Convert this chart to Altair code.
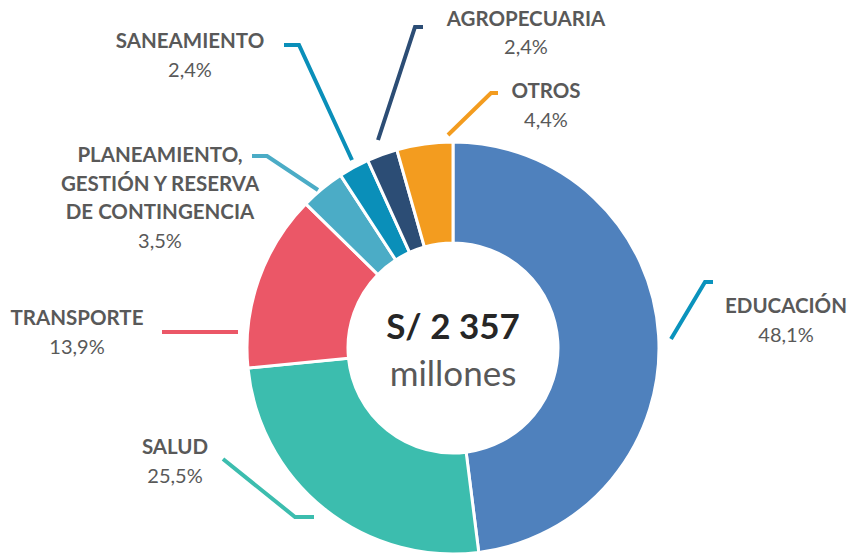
import altair as alt
import pandas as pd

# ---------------- data ----------------
categories = [
    "EDUCACIÓN",
    "SALUD",
    "TRANSPORTE",
    "PLANEAMIENTO, GESTIÓN Y RESERVA DE CONTINGENCIA",
    "SANEAMIENTO",
    "AGROPECUARIA",
    "OTROS",
]
shares = [48.1, 25.5, 13.9, 3.5, 2.4, 2.4, 4.4]
total_millions = 2357
center_unit = "millones"

# ---------------- styling / layout ----------------
slice_colors = ["#4F81BD", "#3CBDAE", "#EB5767", "#4BACC6", "#0A8FB9", "#2C4D75", "#F39C1F"]
leader_colors = ["#0A93BD", "#3CBDAE", "#EB5767", "#4BACC6", "#0A8FB9", "#2C4D75", "#F39C1F"]
TEXT_GREY = "#595959"
FONT = "Lato"
W, H = 845, 546
CX, CY = 453, 348          # donut centre (page px)
R_IN, R_OUT = 105, 206

name_lines = {
    "EDUCACIÓN": ["EDUCACIÓN"],
    "SALUD": ["SALUD"],
    "TRANSPORTE": ["TRANSPORTE"],
    "PLANEAMIENTO, GESTIÓN Y RESERVA DE CONTINGENCIA": ["PLANEAMIENTO,", "GESTIÓN Y RESERVA", "DE CONTINGENCIA"],
    "SANEAMIENTO": ["SANEAMIENTO"],
    "AGROPECUARIA": ["AGROPECUARIA"],
    "OTROS": ["OTROS"],
}
# label anchor (centre x, y of first line), line step
label_anchor = {
    "EDUCACIÓN": (786, 307),
    "SALUD": (175, 448),
    "TRANSPORTE": (77, 319),
    "PLANEAMIENTO, GESTIÓN Y RESERVA DE CONTINGENCIA": (160, 156),
    "SANEAMIENTO": (190, 42),
    "AGROPECUARIA": (526, 19.5),
    "OTROS": (546, 92),
}
LINE_STEP = 28.7
leader_pts = {
    "EDUCACIÓN": [(671, 339), (705, 282), (713, 282)],
    "SALUD": [(223, 459), (295, 517), (314, 517)],
    "TRANSPORTE": [(162, 332), (238, 332)],
    "PLANEAMIENTO, GESTIÓN Y RESERVA DE CONTINGENCIA": [(252, 156), (267, 156), (318, 190)],
    "SANEAMIENTO": [(284, 45), (299, 45), (352, 160)],
    "AGROPECUARIA": [(378, 140), (415, 27), (423, 27)],
    "OTROS": [(448, 135), (491, 93), (498, 93)],
}

# ---------------- tables ----------------
arc_df = pd.DataFrame({"category": categories, "share": shares, "idx": list(range(len(categories)))})

def pct(v):
    return f"{v:.1f}".replace(".", ",") + "%"

name_rows, pct_rows, line_rows = [], [], []
for i, (cat, v) in enumerate(zip(categories, shares)):
    x0, y0 = label_anchor[cat]
    lines = name_lines[cat]
    for j, t in enumerate(lines):
        name_rows.append({"x": x0, "y": y0 + j * LINE_STEP, "t": t})
    pct_rows.append({"x": x0, "y": y0 + len(lines) * LINE_STEP, "t": pct(v)})
    for k, (px, py) in enumerate(leader_pts[cat]):
        line_rows.append({"cat": cat, "k": k, "x": px, "y": py, "lc": leader_colors[i]})

name_df = pd.DataFrame(name_rows)
pct_df = pd.DataFrame(pct_rows)
line_df = pd.DataFrame(line_rows)
center_df = pd.DataFrame({
    "x": [CX, CX],
    "y": [CY - 20, CY + 27],
    "t": ["S/ " + f"{total_millions:,}".replace(",", " "), center_unit],
})

xs = alt.Scale(domain=[8, 8 + W], nice=False, zero=False)
ys = alt.Scale(domain=[8, 8 + H], nice=False, zero=False, reverse=True)

donut = alt.Chart(arc_df).mark_arc(
    innerRadius=R_IN, outerRadius=R_OUT, stroke="white", strokeWidth=3
).encode(
    theta=alt.Theta("share:Q", stack=True),
    order=alt.Order("idx:Q"),
    color=alt.Color("category:N", scale=alt.Scale(domain=categories, range=slice_colors), legend=None),
    x=alt.value(CX - 8),
    y=alt.value(CY - 8),
)

leaders = alt.Chart(line_df).mark_line(strokeWidth=4, strokeJoin="miter").encode(
    x=alt.X("x:Q", scale=xs, axis=None),
    y=alt.Y("y:Q", scale=ys, axis=None),
    detail="cat:N",
    order="k:Q",
    color=alt.Color("lc:N", scale=None),
)

names = alt.Chart(name_df).mark_text(
    font=FONT, fontWeight="bold", fontSize=20.5, color=TEXT_GREY, align="center", baseline="middle"
).encode(x=alt.X("x:Q", scale=xs, axis=None), y=alt.Y("y:Q", scale=ys, axis=None), text="t:N")

pcts = alt.Chart(pct_df).mark_text(
    font=FONT, fontSize=20, color=TEXT_GREY, align="center", baseline="middle"
).encode(x=alt.X("x:Q", scale=xs, axis=None), y=alt.Y("y:Q", scale=ys, axis=None), text="t:N")

center_bold = alt.Chart(center_df.iloc[[0]]).mark_text(
    font=FONT, fontWeight="bold", fontSize=35, color="#262626", align="center", baseline="middle"
).encode(x=alt.X("x:Q", scale=xs, axis=None), y=alt.Y("y:Q", scale=ys, axis=None), text="t:N")

center_reg = alt.Chart(center_df.iloc[[1]]).mark_text(
    font=FONT, fontSize=35, color=TEXT_GREY, align="center", baseline="middle"
).encode(x=alt.X("x:Q", scale=xs, axis=None), y=alt.Y("y:Q", scale=ys, axis=None), text="t:N")

chart = alt.layer(donut, leaders, names, pcts, center_bold, center_reg).properties(
    width=W, height=H, padding=0, autosize=alt.AutoSizeParams(type="none"), background="white"
).configure_view(stroke=None)

chart.save("out.html", embed_options={"renderer": "svg", "actions": False})
